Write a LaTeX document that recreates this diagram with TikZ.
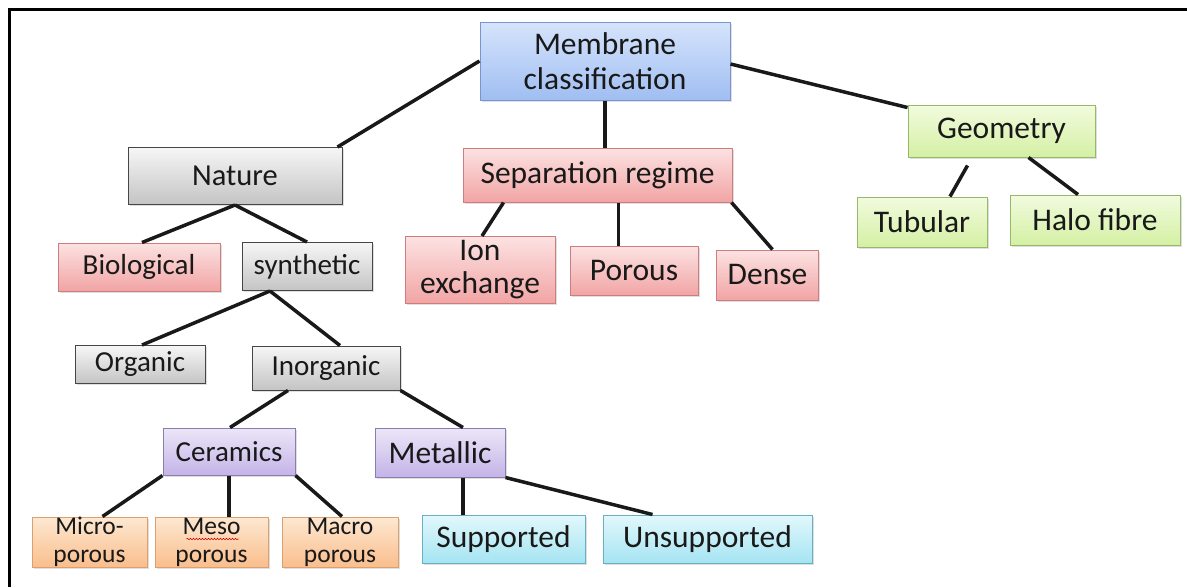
\documentclass[tikz,border=0pt]{standalone}
\usepackage{fontspec}
\setmainfont{Carlito}
\usetikzlibrary{shadows,decorations.pathmorphing}
\definecolor{bluetop}{RGB}{214,228,252}
\definecolor{bluebot}{RGB}{160,190,242}
\definecolor{blueline}{RGB}{120,150,205}
\definecolor{graytop}{RGB}{246,246,246}
\definecolor{graybot}{RGB}{196,196,196}
\definecolor{grayline}{RGB}{70,70,70}
\definecolor{redtop}{RGB}{252,226,226}
\definecolor{redbot}{RGB}{242,164,164}
\definecolor{redline}{RGB}{205,125,125}
\definecolor{greentop}{RGB}{242,251,222}
\definecolor{greenbot}{RGB}{212,240,164}
\definecolor{greenline}{RGB}{150,185,105}
\definecolor{purpletop}{RGB}{236,230,248}
\definecolor{purplebot}{RGB}{196,180,232}
\definecolor{purpleline}{RGB}{140,125,175}
\definecolor{orangetop}{RGB}{253,232,210}
\definecolor{orangebot}{RGB}{250,190,140}
\definecolor{orangeline}{RGB}{220,160,110}
\definecolor{cyantop}{RGB}{226,248,252}
\definecolor{cyanbot}{RGB}{165,228,242}
\definecolor{cyanline}{RGB}{105,175,195}
\tikzstyle{box}=[draw,line width=1pt,align=center,text=black!90,inner sep=0pt,
  drop shadow={shadow xshift=1.5pt,shadow yshift=-1.5pt,opacity=.25},
  font=\fontsize{31.5}{35}\selectfont]
\tikzstyle{midtext}=[font=\fontsize{29}{33}\selectfont]
\tikzstyle{smalltext}=[font=\fontsize{25.5}{28}\selectfont]
\tikzstyle{bluebox}=[box,draw=blueline,top color=bluetop,bottom color=bluebot]
\tikzstyle{graybox}=[box,draw=grayline,top color=graytop,bottom color=graybot]
\tikzstyle{redbox}=[box,draw=redline,top color=redtop,bottom color=redbot]
\tikzstyle{greenbox}=[box,draw=greenline,top color=greentop,bottom color=greenbot]
\tikzstyle{purplebox}=[box,draw=purpleline,top color=purpletop,bottom color=purplebot]
\tikzstyle{orangebox}=[box,smalltext,draw=orangeline,top color=orangetop,bottom color=orangebot]
\tikzstyle{cyanbox}=[box,draw=cyanline,top color=cyantop,bottom color=cyanbot]
\tikzstyle{link}=[line width=3.5pt,black!90]

\begin{document}
\begin{tikzpicture}[x=1pt,y=-1pt]
    \useasboundingbox (0,0) rectangle (1187,587);
    \draw[line width=3pt] (9.5,587) -- (9.5,9) -- (1187,9);

    % top level
    \node[bluebox,minimum width=250pt,minimum height=78pt] (membrane) at (605,61) {Membrane\\classification};
    \node[graybox,minimum width=214pt,minimum height=57pt,font=\fontsize{30.5}{34}\selectfont] (nature) at (235,176) {Nature};
    \node[redbox,minimum width=269pt,minimum height=54pt] (sep) at (597.5,175) {Separation regime};
    \node[greenbox,minimum width=187pt,minimum height=52pt] (geo) at (1001.5,131) {Geometry};

    % geometry
    \node[greenbox,minimum width=130pt,minimum height=50pt] (tub) at (922,222) {Tubular};
    \node[greenbox,minimum width=170pt,minimum height=50pt] (halo) at (1095,220) {Halo fibre};

    % separation regime
    \node[redbox,minimum width=150pt,minimum height=67pt,font=\fontsize{31.5}{33}\selectfont] (ion) at (480,270) {Ion\\exchange};
    \node[redbox,minimum width=128pt,minimum height=49pt] (porous) at (634,271) {Porous};
    \node[redbox,minimum width=102pt,minimum height=50pt] (dense) at (767.5,275) {Dense};

    % nature
    \node[redbox,midtext,minimum width=162pt,minimum height=48pt] (bio) at (139,267) {Biological};
    \node[graybox,midtext,minimum width=130pt,minimum height=48pt] (syn) at (307,266.5) {synthetic};
    \node[graybox,midtext,minimum width=130pt,minimum height=38pt] (organic) at (140,364.5) {Organic};
    \node[graybox,midtext,minimum width=148pt,minimum height=44pt] (inorg) at (326,368) {Inorganic};
    \node[purplebox,midtext,minimum width=132pt,minimum height=47pt] (cer) at (229,451.5) {Ceramics};
    \node[purplebox,minimum width=130pt,minimum height=49pt] (met) at (440,452.5) {Metallic};

    % bottom row
    \node[orangebox,minimum width=115pt,minimum height=50pt] (micro) at (89.5,542) {Micro-\\porous};
    \node[orangebox,minimum width=113pt,minimum height=50pt] (meso) at (211.5,542) {Meso\\porous};
    \node[orangebox,minimum width=116pt,minimum height=50pt] (macro) at (340,542) {Macro\\porous};
    \node[cyanbox,minimum width=163pt,minimum height=48pt] (sup) at (503.5,539) {Supported};
    \node[cyanbox,minimum width=209pt,minimum height=48pt] (unsup) at (707.5,539) {Unsupported};
    \draw[red!80!black,line width=.6pt,decorate,decoration={snake,amplitude=.7pt,segment length=3pt}]
      ([xshift=-25pt,yshift=3pt]meso.center) -- ([xshift=27pt,yshift=3pt]meso.center);

    % connectors
    \draw[link] (membrane.west) -- ([xshift=-5pt]nature.north east);
    \draw[link] (membrane.south) -- (membrane.south |- sep.north);
    \draw[link] ([yshift=-3pt]membrane.east) -- ([yshift=-3pt]geo.north west);

    \draw[link] ([xshift=-34pt,yshift=-8pt]geo.south) -- ([xshift=28pt]tub.north);
    \draw[link] ([xshift=27pt]geo.south) -- ([xshift=-17pt]halo.north);

    \draw[link] ([xshift=-94pt]sep.south) -- ([xshift=2pt]ion.north);
    \draw[link] ([xshift=21pt]sep.south) -- ([xshift=21pt]sep.south |- porous.north);
    \draw[link] ([xshift=-1pt]sep.south east) -- ([xshift=5pt]dense.north);

    \draw[link] (nature.south) -- ([xshift=3pt]bio.north);
    \draw[link] (nature.south) -- (syn.north);
    \draw[link] ([xshift=-37pt]syn.south) -- ([xshift=2pt]organic.north);
    \draw[link] ([xshift=-37pt]syn.south) -- ([xshift=14pt]inorg.north);
    \draw[link] ([xshift=-38pt]inorg.south) -- ([xshift=1pt]cer.north);
    \draw[link] (inorg.south east) -- ([xshift=23pt]met.north);

    \draw[link] (cer.south west) -- ([xshift=13pt]micro.north);
    \draw[link] (cer.south) -- (cer.south |- meso.north);
    \draw[link] (cer.south east) -- ([xshift=2pt]macro.north);
    \draw[link] ([xshift=23pt]met.south) -- ([xshift=23pt]met.south |- sup.north);
    \draw[link] (met.south east) -- ([xshift=-55pt]unsup.north);
\end{tikzpicture}
\end{document}
